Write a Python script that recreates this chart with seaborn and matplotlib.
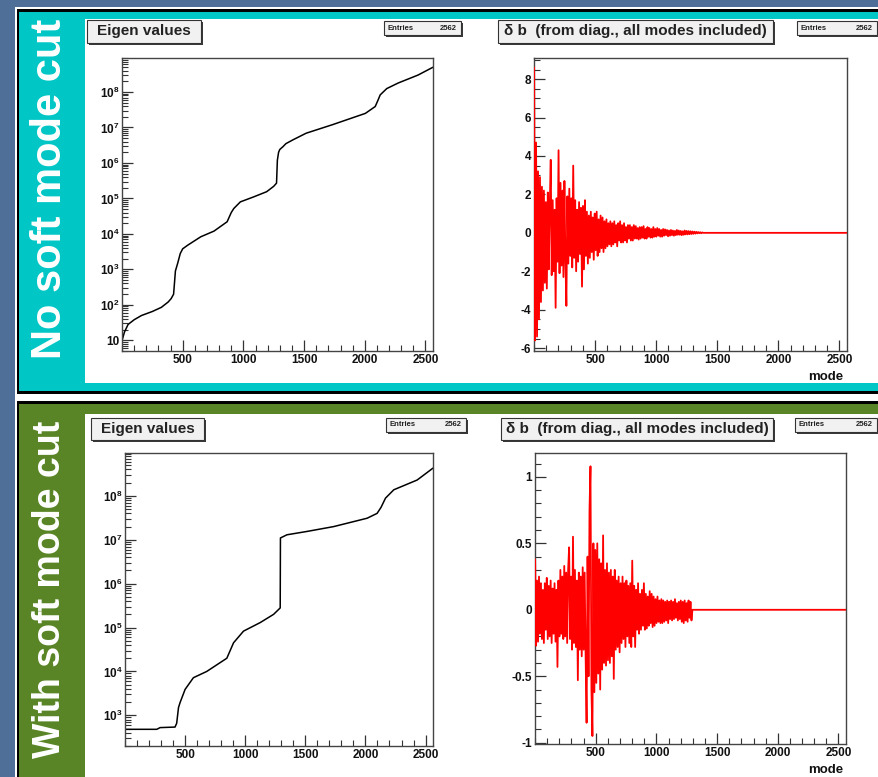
import numpy as np
import pandas as pd
import matplotlib
matplotlib.use("Agg")
import matplotlib.pyplot as plt
import seaborn as sns
from matplotlib.patches import Rectangle
from matplotlib.ticker import FixedLocator, MultipleLocator, LogLocator, FuncFormatter, NullFormatter

# ------------------------------------------------------------------ data
N_MODES = 2562
DB_STEP = 8

eig_top_mode = [1, 20, 50, 100, 160, 250, 324, 380, 405, 425,
                432, 440, 459, 480, 500, 541, 649, 758, 866, 900,
                921, 975, 1083, 1192, 1250, 1273, 1280, 1290, 1300, 1327,
                1350, 1409, 1517, 1734, 2005, 2086, 2110, 2127, 2181, 2276,
                2438, 2562]
eig_top_val = [10, 17, 28, 38, 50, 65, 85, 120, 150, 200,
               400, 900, 1500, 2800, 3800, 4800, 8300, 1.2e4, 2.2e4, 4e4,
               5.2e4, 8e4, 1.1e5, 1.55e5, 2.2e5, 2.7e5, 1.2e6, 2.0e6, 2.4e6, 2.9e6,
               3.5e6, 4.5e6, 6.9e6, 1.2e7, 2.5e7, 3.9e7, 6e7, 8.3e7, 1.25e8, 1.8e8,
               3e8, 5e8]

eig_bot_mode = [1, 264, 292, 416, 430, 445, 458, 500, 569, 680,
                847, 875, 903, 986, 1125, 1236, 1291, 1293, 1347, 1514,
                1736, 2014, 2097, 2130, 2167, 2236, 2430, 2562]
eig_bot_val = [480, 480, 525, 540, 660, 1500, 1950, 3900, 7200, 1.0e4,
               2.0e4, 3.0e4, 4.5e4, 8.3e4, 1.3e5, 2.0e5, 2.8e5, 1.1e7, 1.3e7, 1.55e7,
               2.0e7, 3.1e7, 4.0e7, 5.5e7, 8.9e7, 1.38e8, 2.3e8, 4.3e8]

# delta b values, one every DB_STEP modes starting at mode 1 (zero afterwards)
db_top_vals = [
    8.6, -5.6, 4.7, -5.4, 3.2, -4.5, 2.9, -3.6, 2.4, -3.0,
    2.2, -2.6, 1.6, -2.9, 2.1, -1.9, 1.4, 3.8, -2.2, 1.7,
    -2.0, 1.2, -3.9, 1.8, -1.5, 4.3, -2.1, 2.6, -1.7, 2.2,
    -2.3, 2.7, -1.4, -3.8, 1.9, -1.6, 2.3, -1.2, 1.8, -1.8,
    3.5, -1.3, 1.7, -2.0, 1.2, -1.5, 1.6, -1.1, 1.3, -2.8,
    1.4, -1.9, 1.7, -1.2, 1.1, -1.6, 0.9, -1.3, 1.1, -1.0,
    0.8, -1.4, 1.0, -0.9, 1.1, -1.2, 0.7, -1.0, 0.9, -0.8,
    0.8, -1.0, 0.6, -0.8, 0.7, -0.7, 0.5, -0.6, 0.6, -0.7,
    0.5, -0.6, 0.6, -0.5, 0.4, -0.7, 0.5, -0.4, 0.6, -0.5,
    0.4, -0.5, 0.5, -0.4, 0.3, -0.5, 0.4, -0.3, 0.4, -0.4,
    0.3, -0.4, 0.4, -0.3, 0.35, -0.3, 0.25, -0.35, 0.3, -0.3,
    0.3, -0.25, 0.35, -0.3, 0.2, -0.3, 0.3, -0.2, 0.25, -0.25,
    0.2, -0.25, 0.3, -0.2, 0.2, -0.2, 0.25, -0.15, 0.2, -0.2,
    0.15, -0.2, 0.2, -0.15, 0.18, -0.12, 0.15, -0.18, 0.12, -0.15,
    0.15, -0.12, 0.12, -0.15, 0.1, -0.12, 0.15, -0.1, 0.12, -0.1,
    0.1, -0.12, 0.08, -0.1, 0.12, -0.08, 0.1, -0.08, 0.09, -0.07,
    0.08, -0.06, 0.07, -0.05, 0.06, -0.04, 0.05, -0.03, 0.04, -0.02,
    0.03, -0.02, 0.02, 0.0,
]
db_bot_vals = [
    0.38, -0.27, 0.22, -0.24, 0.25, -0.18, 0.2, -0.22, 0.15, -0.25,
    0.2, -0.15, 0.24, -0.22, 0.18, -0.2, 0.22, -0.25, 0.16, -0.18,
    0.2, -0.24, 0.15, -0.43, 0.22, -0.2, 0.3, -0.18, 0.25, -0.22,
    0.33, -0.2, 0.28, -0.25, 0.3, 0.47, -0.22, 0.25, -0.3, 0.55,
    -0.25, 0.3, -0.28, 0.22, -0.53, 0.28, -0.3, 0.25, -0.35, 0.32,
    -0.3, 0.28, -0.35, -0.85, 0.4, -0.5, 0.75, 1.08, -0.6, -0.95,
    0.5, -0.62, 0.45, -0.55, 0.5, -0.48, 0.38, -0.6, 0.35, -0.45,
    0.56, -0.4, 0.3, -0.42, 0.35, -0.38, 0.28, -0.4, 0.3, -0.35,
    0.25, -0.52, 0.3, -0.3, 0.22, -0.28, 0.25, -0.32, 0.2, -0.25,
    0.25, -0.22, 0.2, -0.28, 0.22, -0.2, 0.18, -0.25, 0.2, -0.28,
    0.37, -0.2, 0.18, -0.28, 0.15, -0.15, 0.2, -0.18, 0.12, -0.15,
    0.15, -0.12, 0.2, -0.15, 0.12, -0.14, 0.1, -0.12, 0.14, -0.1,
    0.12, -0.13, 0.1, -0.12, 0.08, -0.1, 0.1, -0.09, 0.07, -0.1,
    0.08, -0.1, 0.07, -0.09, 0.06, -0.08, 0.07, -0.1, 0.06, -0.07,
    0.07, -0.08, 0.06, -0.07, 0.08, -0.06, 0.05, -0.08, 0.06, -0.07,
    0.07, -0.09, 0.06, -0.1, 0.07, -0.08, 0.05, -0.09, 0.07, -0.06,
    0.06, -0.08, 0.0,
]

x_ticks = [500, 1000, 1500, 2000, 2500]
top_db_ticks = [-6, -4, -2, 0, 2, 4, 6, 8]
bot_db_ticks = [-1, -0.5, 0, 0.5, 1]
top_eig_decades = [1, 2, 3, 4, 5, 6, 7, 8]
bot_eig_decades = [3, 4, 5, 6, 7, 8]
panel_labels = ["No soft mode cut", "With soft mode cut"]
eig_title = "Eigen values"
db_title = "\u03b4 b  (from diag., all modes included)"
entries_label = "Entries"
entries_value = "2562"
x_title = "mode"

# ------------------------------------------------------------------ style
W, H = 879, 777
BG = "#4f6e98"
CYAN = "#00c6c6"
GREEN = "#5a8526"

sns.set_theme(style="ticks")
plt.rcParams['font.family'] = ['Liberation Sans', 'DejaVu Sans']
plt.rcParams['font.weight'] = 'bold'
plt.rcParams['mathtext.fontset'] = 'custom'
plt.rcParams['mathtext.rm'] = 'Liberation Sans:bold'
plt.rcParams['mathtext.bf'] = 'Liberation Sans:bold'
plt.rcParams['mathtext.it'] = 'Liberation Sans:bold'
plt.rcParams['path.simplify'] = False

fig = plt.figure(figsize=(W / 100, H / 100), dpi=100, facecolor=BG)


def px_rect(x0, y0, x1, y1):
    return (x0 / W, 1 - y1 / H, (x1 - x0) / W, (y1 - y0) / H)


def add_rect(x0, y0, x1, y1, color, z=-5, ec='none', lw=0):
    l, b, w, h = px_rect(x0, y0, x1, y1)
    fig.add_artist(Rectangle((l, b), w, h, transform=fig.transFigure,
                             facecolor=color, edgecolor=ec, lw=lw, zorder=z))


def add_box(x0, y0, x1, y1, z=5):
    add_rect(x0 + 2, y0 + 2, x1 + 2, y1 + 2, "#3a3a3a", z=z)
    add_rect(x0, y0, x1, y1, "#f1f1f1", z=z + 0.1, ec="#333333", lw=0.8)


# panels
add_rect(15, 7, 880, 401, "white", z=-10)
add_rect(17, 9, 880, 394, "black", z=-9)
add_rect(19, 12, 880, 391, CYAN, z=-8)
add_rect(85, 19, 880, 383, "white", z=-7)

add_rect(15, 398, 880, 790, "white", z=-10)
add_rect(17, 401, 880, 790, "black", z=-9)
add_rect(19, 404, 880, 790, GREEN, z=-8)
add_rect(85, 414, 880, 790, "white", z=-7)

fig.text(50 / W, 1 - 19 / H, panel_labels[0], rotation=90, ha='center', va='top',
         fontsize=30, fontweight='bold', color='white')
fig.text(50 / W, 1 - 421 / H, panel_labels[1], rotation=90, ha='center', va='top',
         fontsize=27, fontweight='bold', color='white')


def style_axes(ax):
    ax.set_facecolor('white')
    for s in ax.spines.values():
        s.set_visible(True)
        s.set_color('#444444')
        s.set_linewidth(1.0)
    ax.tick_params(axis='both', which='major', direction='in', length=8, width=0.9,
                   color='#333333', labelsize=8.5, pad=2, top=False, right=False,
                   labelcolor='#111111')
    ax.tick_params(axis='both', which='minor', direction='in', length=4, width=0.8,
                   color='#333333', top=False, right=False)
    ax.set_xlim(0, N_MODES)
    ax.xaxis.set_major_locator(FixedLocator(x_ticks))
    ax.xaxis.set_minor_locator(MultipleLocator(100))
    ax.set_xlabel('')
    ax.set_ylabel('')
    ax.grid(False)


def log_fmt(v, _):
    k = int(round(np.log10(v)))
    return "10" if k == 1 else r"$10^{%d}$" % k


def eig_axes(rect_px, modes, vals, ylim, decades):
    ax = fig.add_axes(px_rect(*rect_px))
    ax.set_yscale('log')
    df = pd.DataFrame({"mode": modes, "eig": vals})
    sns.lineplot(data=df, x="mode", y="eig", ax=ax, color='black', lw=1.1,
                 estimator=None, sort=False)
    style_axes(ax)
    ax.set_ylim(*ylim)
    ax.yaxis.set_major_locator(FixedLocator([10.0 ** k for k in decades]))
    ax.yaxis.set_major_formatter(FuncFormatter(log_fmt))
    ax.yaxis.set_minor_locator(LogLocator(base=10, subs=np.arange(2, 10), numticks=30))
    ax.yaxis.set_minor_formatter(NullFormatter())
    ax.tick_params(axis='y', which='minor', length=4)
    return ax


def db_axes(rect_px, vals, ylim, ticks, minor):
    ax = fig.add_axes(px_rect(*rect_px))
    modes = list(1 + DB_STEP * np.arange(len(vals))) + [N_MODES]
    df = pd.DataFrame({"mode": modes, "db": list(vals) + [0.0]})
    sns.lineplot(data=df, x="mode", y="db", ax=ax, color='#ff0000', lw=1.3,
                 estimator=None, sort=False, zorder=3)
    style_axes(ax)
    ax.set_ylim(*ylim)
    ax.yaxis.set_major_locator(FixedLocator(ticks))
    ax.yaxis.set_major_formatter(FuncFormatter(lambda v, _: "%g" % v))
    ax.yaxis.set_minor_locator(MultipleLocator(minor))
    return ax


eig_axes((122, 58, 433, 351), eig_top_mode, eig_top_val, (5, 9.1e8), top_eig_decades)
eig_axes((125, 453, 433, 746), eig_bot_mode, eig_bot_val, (200, 9.5e8), bot_eig_decades)
db_axes((534, 58, 847, 351), db_top_vals, (-6.15, 9.1), top_db_ticks, 0.5)
db_axes((535, 453, 846, 744), db_bot_vals, (-1.01, 1.18), bot_db_ticks, 0.1)


def title_box(x0, y0, x1, y1, text, fs=11):
    add_box(x0, y0, x1, y1)
    fig.text((x0 + x1) / 2 / W, 1 - (y0 + y1) / 2 / H, text, ha='center', va='center',
             fontsize=fs, fontweight='bold', color='#222222', zorder=7)


def entries_box(x0, y0, x1, y1):
    add_box(x0, y0, x1, y1)
    yc = 1 - (y0 + y1) / 2 / H
    fig.text((x0 + 4) / W, yc, entries_label, ha='left', va='center', fontsize=5.5,
             color='#222222', zorder=7)
    fig.text((x1 - 4) / W, yc, entries_value, ha='right', va='center', fontsize=5.5,
             color='#222222', zorder=7)


title_box(87, 20, 201, 43, eig_title)
entries_box(384, 21, 461, 35)
title_box(498, 20, 773, 43, db_title)
entries_box(797, 21, 877, 35)

title_box(91, 418, 204, 440, eig_title)
entries_box(386, 418, 466, 432)
title_box(501, 418, 773, 440, db_title)
entries_box(795, 418, 877, 432)

fig.text(843 / W, 1 - 377 / H, x_title, ha='right', va='center', fontsize=9.5,
         fontweight='bold', color='#111111')
fig.text(843 / W, 1 - 770 / H, x_title, ha='right', va='center', fontsize=9.5,
         fontweight='bold', color='#111111')

fig.savefig("out.png", dpi=100, facecolor=BG)
